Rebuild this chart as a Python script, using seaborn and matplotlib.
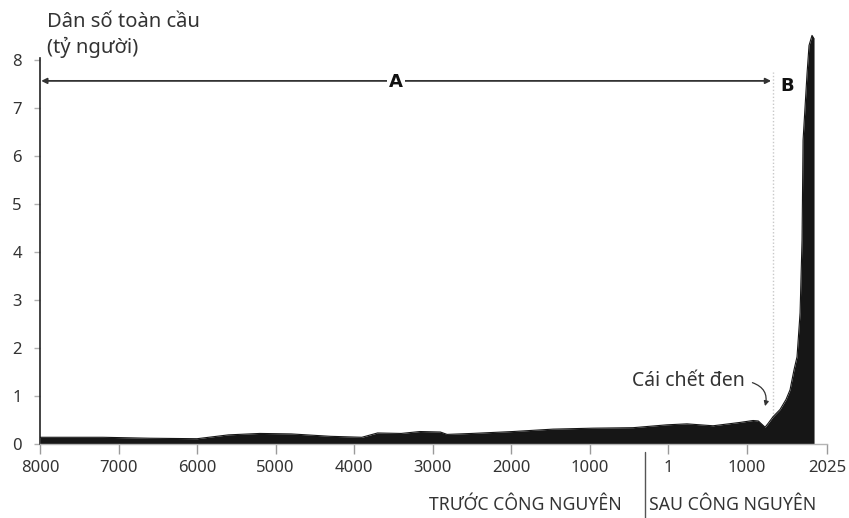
import matplotlib
matplotlib.use("Agg")
import matplotlib.pyplot as plt
from matplotlib.lines import Line2D
import seaborn as sns
import pandas as pd

# World population (billions) by year, negative years are BCE
years = [-8000, -7200, -6600, -6000, -5600, -5200, -4800, -4300, -3900, -3700,
         -3400, -3160, -2900, -2815, -2500, -1975, -1465, -955, -446, -13,
         242, 573, 917, 1083, 1150, 1236, 1275, 1338, 1427, 1503,
         1554, 1605, 1643, 1682, 1707, 1720, 1771, 1796, 1834, 1860]
population = [0.13, 0.13, 0.11, 0.10, 0.18, 0.21, 0.20, 0.15, 0.13, 0.22,
              0.21, 0.25, 0.24, 0.19, 0.21, 0.25, 0.30, 0.32, 0.33, 0.39,
              0.41, 0.37, 0.44, 0.48, 0.47, 0.34, 0.42, 0.56, 0.71, 0.92,
              1.12, 1.54, 1.81, 2.73, 4.25, 6.33, 7.73, 8.31, 8.52, 8.45]

x_ticks = [-8000, -7000, -6000, -5000, -4000, -3000, -2000, -1000, 1, 1000, 2025]
x_tick_labels = ["8000", "7000", "6000", "5000", "4000", "3000", "2000", "1000",
                 "1", "1000", "2025"]
y_ticks = [0, 1, 2, 3, 4, 5, 6, 7, 8]

era_split_year = 1338          # start of period B
black_death_year = 1236

df = pd.DataFrame({"year": years, "population": population})

sns.set_theme(style="white")
FONT = ["Noto Sans", "DejaVu Sans"]
plt.rcParams["font.family"] = FONT

TXT = "#333333"
FILL = "#161616"

fig = plt.figure(figsize=(8.49, 5.18), dpi=100)
ax = fig.add_axes([40 / 849, 74.5 / 518, 787 / 849, 8.6 * 47.9 / 518])

ax.fill_between(df["year"], 0, df["population"], color=FILL, linewidth=0, zorder=2)
sns.lineplot(data=df, x="year", y="population", ax=ax, color=FILL,
             linewidth=0.8, zorder=3)

ax.set_xlim(-8000, 2025)
ax.set_ylim(0, 8.6)
ax.set_xlabel("")
ax.set_ylabel("")

ax.set_xticks(x_ticks)
ax.set_xticklabels(x_tick_labels)
ax.set_yticks(y_ticks)
ax.set_yticklabels([str(v) for v in y_ticks])
ax.tick_params(axis="x", bottom=True, length=7, width=1, color="#9a9a9a",
               pad=5, labelsize=12, labelcolor=TXT)
ax.tick_params(axis="y", left=True, length=4, width=1, color="#b0b0b0",
               pad=9, labelsize=12, labelcolor=TXT)

for side in ("top", "right"):
    ax.spines[side].set_visible(False)
ax.spines["left"].set_color("#222222")
ax.spines["left"].set_linewidth(1.2)
ax.spines["left"].set_bounds(0, 8.05)
ax.spines["bottom"].set_color("#b5b5b5")
ax.spines["bottom"].set_linewidth(1.0)
ax.set_zorder(1)

# Boundary between the two periods
ax.plot([era_split_year, era_split_year], [0.55, 7.75], color="#c8c8c8",
        linestyle=(0, (1, 1.5)), linewidth=1.0, zorder=1)

# Period A arrow and labels
ax.annotate("", xy=(-7985, 7.57), xytext=(era_split_year - 25, 7.57),
            arrowprops=dict(arrowstyle="<|-|>", color="#333333", lw=1.3,
                            mutation_scale=8, shrinkA=0, shrinkB=0),
            annotation_clip=False)
ax.text(-3465, 7.55, "A", ha="center", va="center", fontsize=13,
        fontweight="bold", color="#111111", family="DejaVu Sans",
        bbox=dict(boxstyle="square,pad=0.12", fc="white", ec="none"))
ax.text(1516, 7.46, "B", ha="center", va="center", fontsize=13,
        fontweight="bold", color="#111111", family="DejaVu Sans")

# Black Death callout
ax.text(255, 1.30, "Cái chết đen", ha="center", va="center", fontsize=14,
        color=TXT)
ax.annotate("", xy=(black_death_year, 0.78), xytext=(1075, 1.27),
            arrowprops=dict(arrowstyle="-|>", color="#333333", lw=0.9,
                            mutation_scale=7, shrinkA=0, shrinkB=0,
                            connectionstyle="arc3,rad=-0.45"))

# Axis title
fig.text(47 / 849, 1 - 22 / 518, "Dân số toàn cầu", ha="left", va="center",
         fontsize=14.5, color=TXT)
fig.text(47 / 849, 1 - 47 / 518, "(tỷ người)", ha="left", va="center",
         fontsize=14.5, color=TXT)

# Era captions under the axis
fig.text(525 / 849, 1 - 505 / 518, "TRƯỚC CÔNG NGUYÊN", ha="center",
         va="center", fontsize=12.7, color=TXT)
fig.text(733 / 849, 1 - 505 / 518, "SAU CÔNG NGUYÊN", ha="center",
         va="center", fontsize=12.7, color=TXT)
fig.add_artist(Line2D([645 / 849, 645 / 849], [1 - 452 / 518, 0],
                      color="#555555", linewidth=1.0))

fig.savefig("out.png", dpi=100, facecolor="white")
